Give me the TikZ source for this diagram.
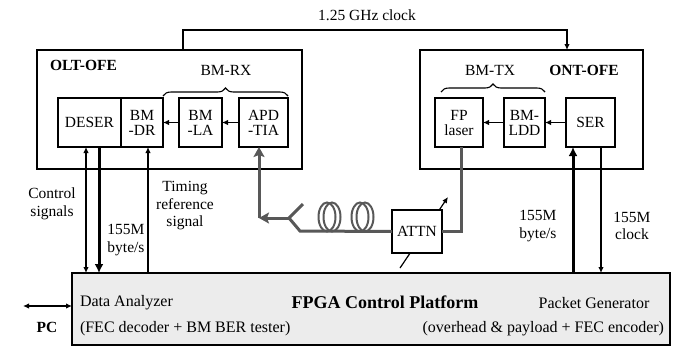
\documentclass[tikz,border=0pt]{standalone}
\usepackage{fontspec}
\setmainfont{Liberation Serif}
\usetikzlibrary{arrows.meta,decorations.pathreplacing}
\definecolor{fibergray}{HTML}{585858}
\definecolor{panelgray}{HTML}{ECECEC}
\begin{document}
\begin{tikzpicture}[x=1pt,y=-1pt,
  every node/.style={font=\fontsize{15.5}{15}\selectfont, inner sep=0pt, outer sep=0pt},
  blk/.style={draw, line width=1.4pt, anchor=north west, align=center},
  frame/.style={draw, line width=1.4pt, anchor=north west},
  lbl/.style={align=center, font=\fontsize{15.5}{17.5}\selectfont},
  hdr/.style={font=\fontsize{15.5}{15}\selectfont\bfseries},
  wire/.style={line width=1.2pt},
  heavy/.style={line width=3pt},
  tip/.style={-{Latex[length=6pt,width=5.5pt]}},
  bigtip/.style={-{Latex[length=9pt,width=9pt]}},
  fiber/.style={draw=fibergray, line width=3pt},
  fibertip/.style={-{Stealth[length=10pt,width=11pt,inset=2pt]}},
  coil/.style={draw=fibergray, line width=2pt},
  bracestyle/.style={decorate, decoration={brace, amplitude=8pt}, line width=1.1pt},
]
\useasboundingbox (0,0) rectangle (679,349);

% enclosures
\node[frame, minimum width=265, minimum height=119] (olt) at (37,50) {};
\node[frame, minimum width=223, minimum height=119] (ont) at (420,50) {};
\node[frame, fill=panelgray, minimum width=598, minimum height=72] (fpga) at (72,273) {};

% OLT front end blocks
\node[blk, minimum width=63, minimum height=49] (deser) at (58,98) {DESER};
\node[blk, minimum width=42, minimum height=49] (bmdr) at (121,98) {BM\\-DR};
\node[blk, minimum width=43, minimum height=49] (bmla) at (179,98) {BM\\-LA};
\node[blk, minimum width=49, minimum height=49] (apd) at (239,98) {APD\\-TIA};

% ONT front end blocks
\node[blk, minimum width=48, minimum height=49] (fp) at (435,98) {FP\\laser};
\node[blk, minimum width=41, minimum height=49] (bmldd) at (504,98) {BM-\\LDD};
\node[blk, minimum width=49, minimum height=49] (ser) at (566,98) {SER};

% headings
\node[hdr, anchor=west] (olttitle) at (50,65) {OLT-OFE};
\node[hdr] (onttitle) at (584,70) {ONT-OFE};
\node (rxtitle) at (226,70) {BM-RX};
\node (txtitle) at (490,70) {BM-TX};
\draw[bracestyle] ([yshift=2pt]bmdr.north east) -- ([yshift=2pt]apd.north east);
\draw[bracestyle] ([xshift=6pt,yshift=6pt]fp.north west) -- ([yshift=6pt]bmldd.north east);

% internal signal flow
\draw[wire, tip] (apd.west) -- (bmla.east);
\draw[wire, tip] (bmla.west) -- (bmdr.east);
\draw[wire, tip] (ser.west) -- (bmldd.east);
\draw[wire, tip] (bmldd.west) -- (fp.east);

% 1.25 GHz clock
\coordinate (ckL) at (183,30);
\coordinate (ckR) at (567,30);
\draw[wire, tip] (olt.north -| ckL) -- (ckL) -- (ckR) -- (ont.north -| ckR);
\node (cklabel) at (367,15) {1.25 GHz clock};

% links between front ends and FPGA platform
\coordinate (xctl) at (86,0);
\coordinate (xbl) at (99,0);
\coordinate (xtim) at (148,0);
\coordinate (xbr) at (573,0);
\coordinate (xclk) at (601,0);
\draw[wire, {Latex[length=6pt,width=5.5pt]}-{Latex[length=6pt,width=5.5pt]}] (xctl |- deser.south) -- (xctl |- fpga.north);
\draw[heavy, bigtip] (xbl |- deser.south) -- (xbl |- fpga.north);
\draw[wire, tip] (xtim |- fpga.north) -- (xtim |- bmdr.south);
\draw[heavy, bigtip] (xbr |- fpga.north) -- (xbr |- ser.south);
\draw[wire, tip] (xclk |- ser.south) -- (xclk |- fpga.north);

\node[lbl] (ctllabel) at (52,204) {Control\\signals};
\node[lbl] (bllabel) at (126,240) {155M\\byte/s};
\node[lbl] (timlabel) at (185,206) {Timing\\reference\\signal};
\node[lbl] (brlabel) at (538,226) {155M\\byte/s};
\node[lbl] (clklabel) at (632,226) {155M\\clock};

% PC link
\coordinate (pcend) at (23,306);
\draw[wire, {Latex[length=6pt,width=5.5pt]}-{Latex[length=6pt,width=5.5pt]}] (pcend) -- (pcend -| fpga.west);
\node[hdr] (pclabel) at (47,327) {PC};

% FPGA platform texts
\node[anchor=west, font=\fontsize{16}{16}\selectfont] (da) at (80,303) {Data Analyzer};
\node[anchor=west, font=\fontsize{16}{16}\selectfont] (dasub) at (80,329) {(FEC decoder + BM BER tester)};
\node[font=\fontsize{18}{18}\selectfont\bfseries] (fpgatitle) at (385,302) {FPGA Control Platform};
\node[font=\fontsize{16}{16}\selectfont] (pg) at (594,303) {Packet Generator};
\node[anchor=east, font=\fontsize{16}{16}\selectfont] (pgsub) at (664,329) {(overhead \& payload + FEC encoder)};

% variable optical attenuator
\coordinate (va1) at (400,268);
\coordinate (va2) at (448,197);
\draw[wire, tip] (va1) -- (va2);
\node[draw, fill=white, line width=1.4pt, minimum width=50, minimum height=43, anchor=north west] (attn) at (392,210) {ATTN};

% optical fiber path
\coordinate (fr) at (461,231);
\coordinate (sp2) at (300,231);
\coordinate (sp1) at (289,218);
\coordinate (sp3) at (303,204);
\coordinate (corner) at (259,218);
\draw[fiber] (fr |- fp.south) -- (fr) -- (fr -| attn.east);
\draw[fiber] (attn.west) -- (sp2) -- (sp1) -- (sp3);
\draw[fiber, fibertip] (sp1) -- (corner);
\draw[fiber, fibertip] (corner) -- (corner |- apd.south);

% fiber spool
\draw[coil] (327,217) ellipse [x radius=8.5, y radius=14.5];
\draw[coil] (332,217) ellipse [x radius=8.5, y radius=14.5];
\draw[coil] (360,217) ellipse [x radius=8.5, y radius=14.5];
\draw[coil] (365,217) ellipse [x radius=8.5, y radius=14.5];
\end{tikzpicture}
\end{document}
